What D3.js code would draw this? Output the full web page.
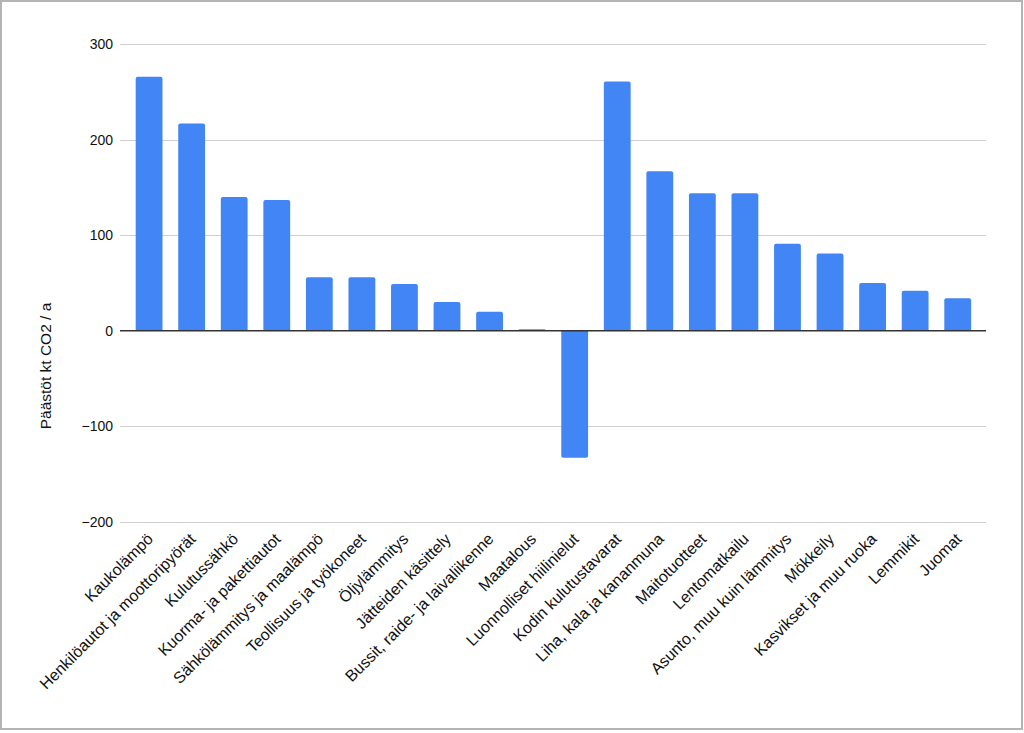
<!DOCTYPE html>
<html><head><meta charset="utf-8">
<script src="https://cdn.jsdelivr.net/npm/d3@7"></script>
<style>body{margin:0;background:#fff}svg{display:block}text{font-family:"Liberation Sans",Arial,sans-serif}</style>
</head><body><svg id="c" width="1024" height="733"></svg>
<script>
const categories = ["Kaukolämpö","Henkilöautot ja moottoripyörät","Kulutussähkö","Kuorma- ja pakettiautot","Sähkölämmitys ja maalämpö","Teollisuus ja työkoneet","Öljylämmitys","Jätteiden käsittely","Bussit, raide- ja laivaliikenne","Maatalous","Luonnolliset hiilinielut","Kodin kulutustavarat","Liha, kala ja kananmuna","Maitotuotteet","Lentomatkailu","Asunto, muu kuin lämmitys","Mökkeily","Kasvikset ja muu ruoka","Lemmikit","Juomat"];
const values = [266,217,140,137,56,56,49,30,20,1.5,-133,261,167,144,144,91,81,50,42,34];
const yTicks = [-200,-100,0,100,200,300];
const yTitle = "Päästöt kt CO2 / a";

const svg = d3.select("#c");
svg.append("rect").attr("x",1).attr("y",1).attr("width",1021).attr("height",728)
  .attr("fill","#fff").attr("stroke","#b4b4b4").attr("stroke-width",2);

const x = d3.scaleBand().domain(categories).range([121,985.8]).paddingInner(0.37).paddingOuter(0.345);
const y = d3.scaleLinear().domain([-200,300]).range([521.7,44.3]);

const yAxis = d3.axisLeft(y).tickValues(yTicks).tickSize(0).tickPadding(0).tickFormat(d=>d<0?"\u2212"+Math.abs(d):d);
const ga = svg.append("g").attr("transform","translate(113,0)").call(yAxis);
ga.select(".domain").remove();
ga.selectAll("text").attr("font-size",14).attr("fill","#111").attr("font-family","Liberation Sans, Arial, sans-serif");
svg.append("g").selectAll("line").data(yTicks.filter(d=>d!==0)).join("line")
  .attr("x1",120).attr("x2",986).attr("y1",d=>Math.round(y(d))+0.5).attr("y2",d=>Math.round(y(d))+0.5)
  .attr("stroke","#d0d0d0").attr("stroke-width",1);

svg.append("g").selectAll("path").data(categories.map((c,i)=>({c,v:values[i]}))).join("path")
  .attr("fill","#4285f4")
  .attr("d",d=>{
    const x0=x(d.c), w=x.bandwidth(), y0=y(0), y1=y(d.v), r=Math.min(2,Math.abs(y0-y1)/2);
    if(d.v>=0){
      return `M${x0},${y0}V${y1+r}Q${x0},${y1} ${x0+r},${y1}H${x0+w-r}Q${x0+w},${y1} ${x0+w},${y1+r}V${y0}Z`;
    } else {
      return `M${x0},${y0}V${y1-r}Q${x0},${y1} ${x0+r},${y1}H${x0+w-r}Q${x0+w},${y1} ${x0+w},${y1-r}V${y0}Z`;
    }
  });

svg.append("line").attr("x1",120).attr("x2",986).attr("y1",y(0)).attr("y2",y(0))
  .attr("stroke","#333").attr("stroke-width",1.3);

svg.append("g").selectAll("text").data(categories).join("text")
  .attr("transform",d=>`translate(${x(d)+x.bandwidth()/2+5},${540}) rotate(-45)`)
  .attr("text-anchor","end").attr("font-size",16).attr("fill","#111").text(d=>d);

svg.append("text").attr("transform","translate(51,366) rotate(-90)")
  .attr("text-anchor","middle").attr("font-size",15.5).attr("fill","#111").text(yTitle);
</script></body></html>
